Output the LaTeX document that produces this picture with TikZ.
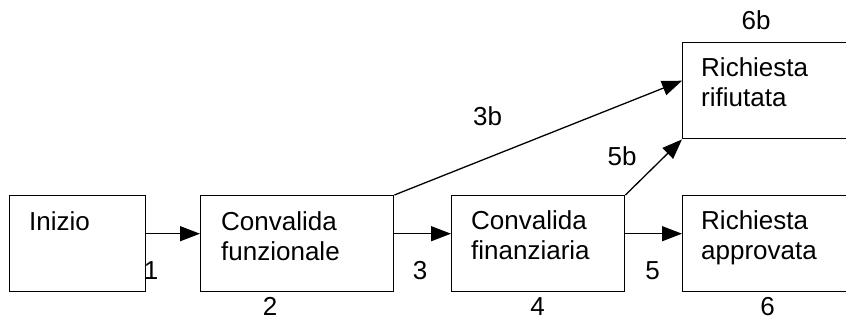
\documentclass[tikz,border=0pt]{standalone}
\usepackage{fontspec}
\setmainfont{Liberation Sans}
\usetikzlibrary{arrows.meta,calc}
\begin{document}
\begin{tikzpicture}[x=1pt,y=-1pt,
  box/.style={draw,line width=1.4pt,inner sep=0pt,anchor=north west,minimum height=96pt},
  txt/.style={inner sep=0pt,anchor=base west,align=left,font=\fontsize{26}{30}\selectfont},
  num/.style={inner sep=0pt,anchor=base,font=\fontsize{26}{30}\selectfont},
  arr/.style={line width=1.3pt,-{Triangle[length=20pt,width=15pt]}}]
\useasboundingbox (0,0) rectangle (846,320);
\clip (0,0) rectangle (846,320);

% process boxes
\node[box,minimum width=136pt] (b1) at (9,195) {};
\node[box,minimum width=193pt] (b2) at (200,195) {};
\node[box,minimum width=173pt] (b4) at (451,195) {};
\node[box,minimum width=180pt] (b6) at (682,195) {};
\node[box,minimum width=180pt] (b6b) at (682,42) {};

% box texts (base anchor sits on the last line)
\node[txt] (t1) at (29,231) {Inizio};
\node[txt] (t2) at (221,261) {Convalida\\funzionale};
\node[txt] (t4) at (471,260) {Convalida\\finanziaria};
\node[txt] (t6) at (701,260) {Richiesta\\approvata};
\node[txt] (t6b) at (701,107) {Richiesta\\rifiutata};

% connectors
\draw[arr] ($(b1.east)+(0,-10)$) -- ($(b2.west)+(0,-10)$);
\draw[arr] ($(b2.east)+(0,-10)$) -- ($(b4.west)+(0,-10)$);
\draw[arr] ($(b4.east)+(0,-10)$) -- ($(b6.west)+(0,-10)$);
\draw[arr] (b2.north east) -- ($(b6b.west)+(0,-10)$);
\draw[arr] (b4.north east) -- (b6b.south west);

% step numbers
\node[num] (n1) at (151,280) {1};
\node[num] (n2) at (270,316) {2};
\node[num] (n3) at (420,280) {3};
\node[num] (n4) at (537.5,316) {4};
\node[num] (n5) at (652.5,280) {5};
\node[num] (n6) at (767.5,316) {6};
\node[num] (n6b) at (756,30) {6b};
\node[num] (n3b) at (487.5,126) {3b};
\node[num] (n5b) at (622,166) {5b};
\end{tikzpicture}
\end{document}
